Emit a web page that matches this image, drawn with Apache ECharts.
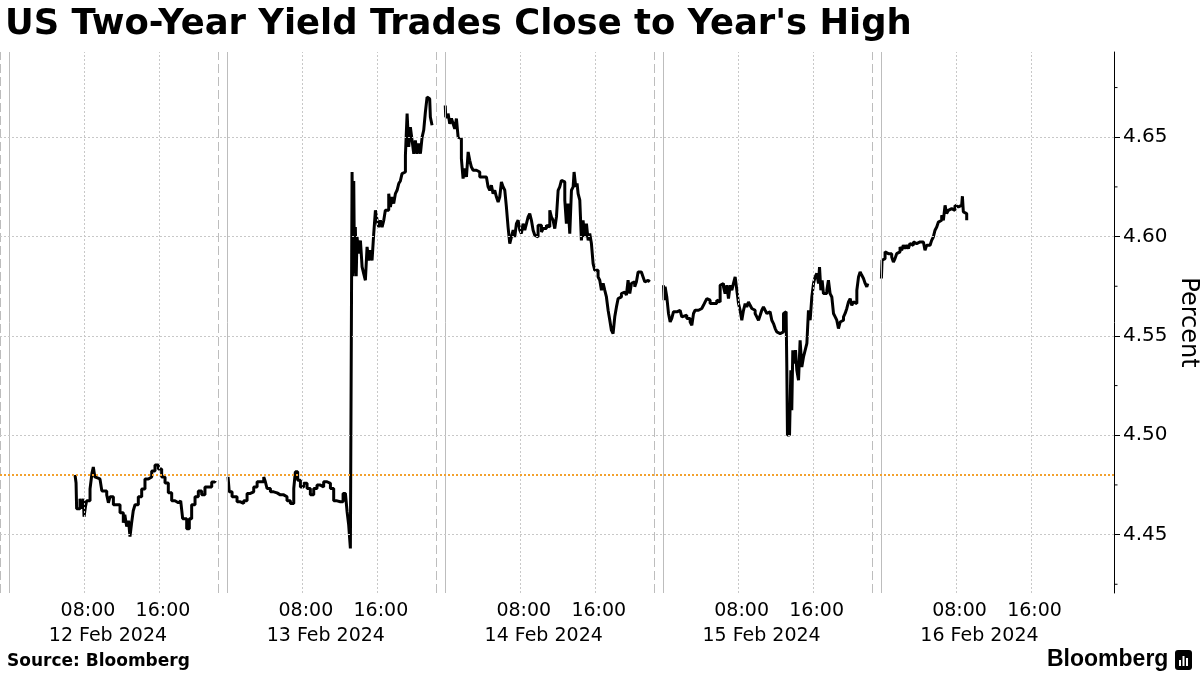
<!DOCTYPE html>
<html>
<head>
<meta charset="utf-8">
<script src="https://cdn.jsdelivr.net/npm/echarts@6/dist/echarts.min.js"></script>
<style>
html,body{margin:0;padding:0;background:#fff;}
#chart{width:1200px;height:675px;}
</style>
</head>
<body>
<div id="chart"></div>
<script>
// ---- data (time of day in hours, yield in percent) ----
const dayNames = ['12 Feb 2024', '13 Feb 2024', '14 Feb 2024', '15 Feb 2024', '16 Feb 2024'];
const timeLabels = ['08:00', '16:00'];
const timeHours = [8, 16];
const yLabelValues = [4.45, 4.50, 4.55, 4.60, 4.65];
const yMinorValues = [4.425, 4.475, 4.525, 4.575, 4.625, 4.675];
const refLevel = 4.48;

const feb12 = [[6.99,4.480],[7.10,4.476],[7.16,4.463],[7.52,4.468],[7.70,4.463],[7.88,4.468],[7.95,4.459],[8.10,4.464],[8.23,4.467],[8.59,4.473],[8.80,4.481],[8.94,4.484],[9.10,4.479],[9.30,4.478],[9.65,4.477],[9.85,4.472],[10.01,4.472],[10.37,4.470],[10.55,4.466],[10.72,4.469],[11.08,4.465],[11.43,4.465],[11.79,4.461],[12.14,4.456],[12.30,4.460],[12.50,4.454],[12.70,4.457],[12.85,4.449],[13.03,4.456],[13.20,4.462],[13.39,4.465],[13.74,4.469],[14.10,4.473],[14.45,4.478],[14.81,4.479],[15.17,4.482],[15.52,4.485],[15.88,4.483],[16.23,4.479],[16.59,4.476],[16.94,4.471],[17.30,4.467],[17.65,4.466],[18.01,4.467],[18.26,4.466],[18.47,4.458],[18.90,4.453],[19.18,4.458],[19.43,4.465],[19.79,4.469],[20.14,4.472],[20.50,4.470],[20.85,4.474],[21.21,4.474],[21.57,4.4765],[21.92,4.477]];

const feb13 = [[0.07,4.479],[0.20,4.4715],[0.50,4.469],[1.03,4.4665],[1.39,4.4657],[1.74,4.467],[2.10,4.4707],[2.45,4.4715],[2.81,4.474],[3.17,4.4766],[3.52,4.4766],[3.88,4.479],[4.05,4.4766],[4.23,4.4732],[4.59,4.4715],[4.94,4.471],[5.30,4.470],[5.65,4.470],[6.01,4.469],[6.36,4.467],[6.72,4.4657],[7.08,4.4732],[7.25,4.4816],[7.50,4.4774],[7.79,4.474],[8.14,4.4758],[8.50,4.4732],[8.85,4.470],[9.21,4.4732],[9.56,4.4749],[9.92,4.474],[10.27,4.4766],[10.63,4.4758],[10.99,4.4732],[11.34,4.467],[11.70,4.4665],[12.05,4.4665],[12.34,4.4707],[12.59,4.4707],[12.77,4.4615],[12.94,4.4548],[13.12,4.443],[13.28,4.443],[13.30,4.6325],[13.40,4.580],[13.48,4.628],[13.56,4.5815],[13.65,4.6048],[13.74,4.580],[13.83,4.5998],[14.01,4.5915],[14.19,4.598],[14.37,4.5847],[14.54,4.5814],[14.72,4.578],[14.90,4.5948],[15.08,4.588],[15.25,4.5931],[15.43,4.588],[15.61,4.6015],[15.79,4.6132],[15.97,4.6082],[16.14,4.6048],[16.32,4.6082],[16.50,4.6048],[16.68,4.6082],[16.85,4.6132],[17.03,4.6132],[17.21,4.6216],[17.39,4.6149],[17.56,4.6199],[17.74,4.6166],[17.92,4.6216],[18.10,4.6233],[18.28,4.6267],[18.45,4.628],[18.63,4.6317],[18.81,4.6325],[18.99,4.6409],[19.17,4.6619],[19.34,4.6451],[19.52,4.6551],[19.70,4.6484],[19.88,4.6417],[20.05,4.6484],[20.23,4.6417],[20.41,4.6468],[20.59,4.6417],[20.77,4.6501],[20.94,4.6535],[21.12,4.6627],[21.30,4.6702],[21.48,4.6694],[21.58,4.6702],[21.65,4.6602],[21.83,4.656]];

const feb14 = [[0.00,4.666],[0.05,4.6602],[0.30,4.6619],[0.48,4.6568],[0.66,4.6594],[0.84,4.6568],[1.01,4.6543],[1.19,4.6594],[1.37,4.6501],[1.55,4.6493],[1.72,4.6392],[1.90,4.6292],[2.08,4.6342],[2.26,4.630],[2.44,4.6426],[2.61,4.6384],[2.79,4.635],[2.97,4.6334],[3.32,4.6325],[3.68,4.630],[4.04,4.630],[4.39,4.6292],[4.57,4.625],[4.75,4.6233],[4.92,4.6258],[5.10,4.6216],[5.28,4.6233],[5.46,4.6199],[5.64,4.6174],[5.81,4.6199],[5.99,4.6275],[6.17,4.625],[6.35,4.6233],[6.52,4.6149],[6.70,4.6048],[6.88,4.5965],[7.06,4.5998],[7.24,4.6032],[7.41,4.5998],[7.59,4.6065],[7.77,4.6082],[7.95,4.6032],[8.12,4.6015],[8.30,4.6065],[8.48,4.6032],[8.66,4.6065],[8.84,4.6099],[9.01,4.6116],[9.19,4.6082],[9.37,4.6032],[9.55,4.6007],[9.72,4.5998],[9.90,4.6057],[10.08,4.6057],[10.26,4.6023],[10.44,4.604],[10.79,4.6057],[10.97,4.6048],[11.15,4.6132],[11.32,4.6099],[11.50,4.6082],[11.68,4.604],[11.86,4.6099],[12.04,4.6233],[12.21,4.625],[12.39,4.6283],[12.57,4.6275],[12.75,4.6183],[12.92,4.6065],[13.10,4.6166],[13.28,4.6015],[13.46,4.6233],[13.64,4.625],[13.74,4.6325],[13.92,4.625],[14.06,4.6267],[14.17,4.6216],[14.35,4.6183],[14.52,4.5981],[14.70,4.6082],[14.88,4.5998],[15.06,4.6065],[15.24,4.5981],[15.41,4.6015],[15.59,4.5965],[15.77,4.5864],[15.95,4.583],[16.12,4.583],[16.30,4.5797],[16.48,4.578],[16.66,4.573],[16.84,4.5764],[17.01,4.573],[17.19,4.5696],[17.37,4.5629],[17.55,4.5579],[17.72,4.5529],[17.90,4.5512],[18.08,4.5596],[18.26,4.5646],[18.44,4.5688],[18.61,4.5696],[18.79,4.5713],[18.97,4.5721],[19.15,4.573],[19.32,4.5705],[19.50,4.578],[19.68,4.5713],[19.86,4.5764],[20.04,4.5772],[20.21,4.5747],[20.39,4.5772],[20.57,4.5822],[20.75,4.5822],[20.92,4.5822],[21.10,4.5797],[21.28,4.5772],[21.46,4.578],[21.64,4.5772],[21.81,4.578]];

const feb15 = [[0.04,4.5755],[0.10,4.568],[0.21,4.5747],[0.39,4.5696],[0.57,4.5613],[0.75,4.557],[0.92,4.5588],[1.10,4.5621],[1.46,4.5629],[1.81,4.5629],[1.99,4.5596],[2.17,4.5604],[2.52,4.5588],[2.88,4.557],[3.06,4.5554],[3.24,4.5613],[3.41,4.5629],[3.77,4.5629],[3.95,4.5638],[4.12,4.5646],[4.30,4.5654],[4.48,4.5671],[4.66,4.5688],[4.84,4.568],[5.01,4.5663],[5.37,4.5654],[5.55,4.5663],[5.72,4.568],[5.90,4.5671],[6.08,4.5755],[6.26,4.5764],[6.44,4.5747],[6.61,4.5713],[6.79,4.5755],[6.97,4.5688],[7.15,4.5755],[7.33,4.573],[7.50,4.5764],[7.68,4.5797],[7.86,4.573],[8.04,4.5663],[8.21,4.5629],[8.39,4.5579],[8.57,4.5629],[8.75,4.5663],[8.92,4.5646],[9.10,4.5671],[9.28,4.5654],[9.46,4.5638],[9.64,4.5629],[9.81,4.5613],[9.99,4.5596],[10.17,4.5579],[10.35,4.5604],[10.52,4.5629],[10.70,4.5646],[10.88,4.5629],[11.06,4.5613],[11.24,4.5621],[11.41,4.5613],[11.59,4.5579],[11.77,4.5562],[11.95,4.5537],[12.12,4.552],[12.30,4.5512],[12.48,4.5512],[12.66,4.552],[12.84,4.5613],[13.01,4.5621],[13.12,4.5604],[13.19,4.5344],[13.26,4.5001],[13.48,4.5009],[13.62,4.5327],[13.72,4.5126],[13.83,4.5428],[13.97,4.5361],[14.12,4.5428],[14.26,4.5327],[14.44,4.5277],[14.61,4.5478],[14.79,4.5344],[14.97,4.5394],[15.15,4.5428],[15.33,4.5462],[15.50,4.5629],[15.68,4.5579],[15.86,4.5696],[16.04,4.5764],[16.21,4.5797],[16.39,4.5814],[16.57,4.5764],[16.68,4.5847],[16.82,4.573],[16.96,4.578],[17.10,4.5713],[17.28,4.5713],[17.46,4.573],[17.63,4.578],[17.81,4.5713],[17.99,4.5696],[18.17,4.5613],[18.35,4.5596],[18.52,4.5579],[18.70,4.5537],[18.88,4.557],[19.06,4.5579],[19.24,4.5596],[19.41,4.5613],[19.59,4.5638],[19.77,4.5671],[19.95,4.5688],[20.12,4.5654],[20.30,4.5671],[20.48,4.5663],[20.66,4.573],[20.84,4.5797],[21.01,4.5822],[21.19,4.5805],[21.37,4.5789],[21.55,4.5764],[21.72,4.5747],[21.83,4.5764]];

const feb16 = [[0.04,4.5789],[0.11,4.5881],[0.25,4.5889],[0.43,4.5923],[0.60,4.5914],[0.78,4.5906],[0.96,4.5914],[1.14,4.5897],[1.32,4.5872],[1.49,4.5889],[1.67,4.5914],[1.85,4.5923],[2.03,4.5948],[2.20,4.5931],[2.38,4.5956],[2.56,4.594],[2.74,4.5956],[2.92,4.594],[3.09,4.5965],[3.27,4.5956],[3.45,4.5973],[3.63,4.5965],[3.80,4.5973],[4.16,4.5973],[4.52,4.5965],[4.69,4.5931],[4.87,4.5956],[5.23,4.5956],[5.40,4.5981],[5.58,4.5998],[5.76,4.6032],[5.94,4.6048],[6.12,4.6073],[6.29,4.6082],[6.47,4.6107],[6.65,4.6082],[6.83,4.6157],[7.00,4.6116],[7.18,4.6132],[7.36,4.6141],[7.54,4.6149],[7.72,4.6132],[7.89,4.6157],[8.07,4.6149],[8.25,4.6149],[8.43,4.6157],[8.60,4.6166],[8.68,4.6203],[8.78,4.6124],[8.96,4.6116],[9.14,4.6082]];

const days = [feb12, feb13, feb14, feb15, feb16];

// ---- axis mapping: each trading day occupies DAY units on the compressed x scale ----
const DAY = 23.24;
const BREAK = 22.28;      // session break (dashed line) offset within day
const DATE_POS = 10.5;    // centre of date label within day
const X_MIN = -1.013, X_MAX = 117.81;
const Y_MIN = 4.4206, Y_MAX = 4.6929;

const toX = (d, h) => d * DAY + h;

const timeVals = [], timeText = [];
dayNames.forEach((n, d) => timeHours.forEach((h, i) => { timeVals.push(toX(d, h)); timeText.push(timeLabels[i]); }));
const dateVals = dayNames.map((n, d) => toX(d, DATE_POS));

function nearestLabel(vals, texts, v) {
  let best = 0;
  for (let i = 1; i < vals.length; i++) if (Math.abs(vals[i] - v) < Math.abs(vals[best] - v)) best = i;
  return texts[best];
}

const FONT = 'DejaVu Sans';
const gridDotted = { color: '#c8c8c8', width: 1, type: [2, 2] };
const vLines = [];
dayNames.forEach((n, d) => {
  vLines.push({ xAxis: toX(d, 0), lineStyle: { color: '#bdbdbd', width: 1, type: 'solid' } });
  vLines.push({ xAxis: toX(d, 0) - (DAY - BREAK), lineStyle: { color: '#bdbdbd', width: 1, type: [9, 4] } });
  timeHours.forEach(h => vLines.push({ xAxis: toX(d, h), lineStyle: gridDotted }));
});
const hLines = yLabelValues.map(v => ({ yAxis: v, lineStyle: gridDotted }));
hLines.push({ yAxis: refLevel, lineStyle: { color: '#f2a12e', width: 2, type: [2, 2] } });

const series = [{
  type: 'line', data: [], silent: true, z: 1,
  markLine: {
    silent: true, symbol: ['none', 'none'], animation: false,
    label: { show: false },
    emphasis: { disabled: true },
    data: vLines.concat(hLines)
  }
}, {
  // short minor ticks on the right-hand value axis
  type: 'custom', silent: true, clip: false, z: 5, animation: false,
  data: yMinorValues.map(v => [X_MAX, v]),
  renderItem: (params, api) => {
    const p = api.coord([api.value(0), api.value(1)]);
    return { type: 'line', shape: { x1: p[0], y1: p[1], x2: p[0] + 3.5, y2: p[1] }, style: { stroke: '#000', lineWidth: 1 } };
  }
}];
days.forEach((arr, d) => {
  series.push({
    type: 'line', step: 'end', z: 3, showSymbol: false, symbol: 'none',
    animation: false, silent: true,
    lineStyle: { color: '#000', width: 3 },
    data: arr.map(p => [toX(d, p[0]), p[1]])
  });
});

const chart = echarts.init(document.getElementById('chart'), null, { renderer: 'canvas' });
chart.setOption({
  backgroundColor: '#fff',
  animation: false,
  title: {
    text: "US Two-Year Yield Trades Close to Year's High",
    left: 0, top: 2,
    textStyle: { fontFamily: FONT, fontWeight: 'bold', fontSize: 35.4, color: '#000' }
  },
  grid: { left: 0, right: 86, top: 52, bottom: 82, containLabel: false, outerBoundsMode: 'none' },
  xAxis: [{
    type: 'value', min: X_MIN, max: X_MAX,
    axisLine: { show: false, onZero: false }, axisTick: { show: false }, splitLine: { show: false },
    axisLabel: {
      customValues: timeVals, margin: 9, padding: [0, 0, 0, 7],
      color: '#000', fontFamily: FONT, fontSize: 19,
      formatter: v => nearestLabel(timeVals, timeText, v)
    }
  }, {
    type: 'value', min: X_MIN, max: X_MAX, position: 'bottom', offset: 25,
    axisLine: { show: false, onZero: false }, axisTick: { show: false }, splitLine: { show: false },
    axisLabel: {
      customValues: dateVals, margin: 9,
      color: '#000', fontFamily: FONT, fontSize: 19,
      formatter: v => nearestLabel(dateVals, dayNames, v)
    }
  }],
  yAxis: {
    type: 'value', position: 'right', min: Y_MIN, max: Y_MAX,
    name: 'Percent', nameLocation: 'middle', nameRotate: -90, nameGap: 62, nameMoveOverlap: false,
    nameTextStyle: { fontFamily: FONT, fontSize: 24, color: '#000' },
    axisLine: { show: true, onZero: false, lineStyle: { color: '#000', width: 1 } },
    axisTick: { show: true, inside: false, length: 6, customValues: yLabelValues, lineStyle: { color: '#000' } },
    axisLabel: {
      customValues: yLabelValues, margin: 9, color: '#000', fontFamily: FONT, fontSize: 20,
      formatter: v => v.toFixed(2)
    },
    splitLine: { show: false }
  },
  series: series,
  graphic: [
    { type: 'text', left: 7, top: 653, style: { text: 'Source: Bloomberg', font: 'bold 17px "DejaVu Sans"', fill: '#000' } },
    { type: 'text', left: 1047, top: 648, style: { text: 'Bloomberg', font: 'bold 23px "Liberation Sans"', fill: '#000' } },
    { type: 'rect', shape: { x: 1175, y: 650, width: 17, height: 20, r: 3 }, style: { fill: '#000' } },
    { type: 'rect', shape: { x: 1179, y: 660, width: 2, height: 6 }, style: { fill: '#fff' } },
    { type: 'rect', shape: { x: 1182.5, y: 656, width: 2, height: 10 }, style: { fill: '#fff' } },
    { type: 'rect', shape: { x: 1186, y: 658, width: 2, height: 8 }, style: { fill: '#fff' } }
  ]
});
</script>
</body>
</html>
